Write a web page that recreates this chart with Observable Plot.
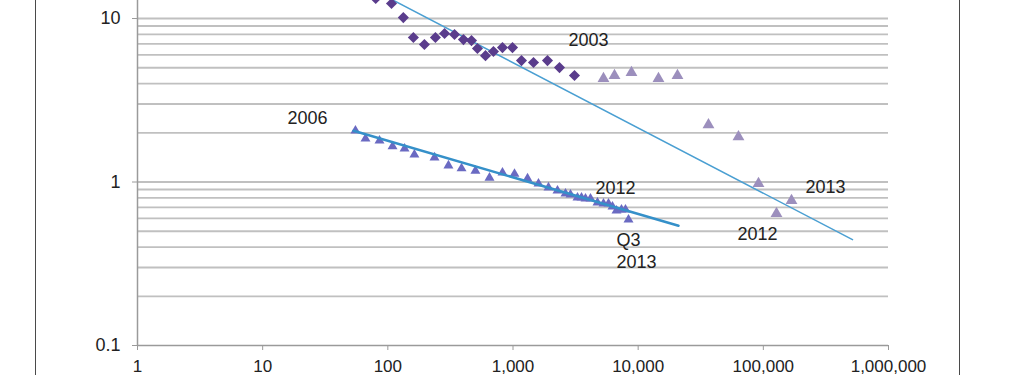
<!DOCTYPE html>
<html>
<head>
<meta charset="utf-8">
<script src="https://cdn.jsdelivr.net/npm/d3@7"></script>
<script src="https://cdn.jsdelivr.net/npm/@observablehq/plot@0.6"></script>
<style>
  html, body { margin: 0; padding: 0; background: #fff; }
  #wrap { position: relative; width: 1022px; height: 375px; overflow: hidden; }
  #border { position: absolute; left: 35px; top: 0; width: 923px; height: 375px;
            border-left: 1.5px solid #4a4a4a; border-right: 1.5px solid #4a4a4a; pointer-events: none; }
  #chart { position: absolute; left: 0; top: 0; }
</style>
</head>
<body>
<div id="wrap"><div id="chart"></div><div id="border"></div></div>
<script>
// --- 2003 series (diamonds) ---
const s2003X = [80, 107, 133, 160, 196, 240, 284, 341, 402, 466, 520, 603, 698, 824, 991, 1169, 1458, 1886, 2352, 3099];
const s2003Y = [13.25, 12.35, 10.13, 7.65, 6.93, 7.65, 8.09, 7.98, 7.43, 7.33, 6.55, 5.93, 6.28, 6.64, 6.64, 5.53, 5.38, 5.53, 5.01, 4.48];
// --- continuation to 2013 (light triangles) ---
const sLateX = [5283, 6469, 8843, 14530, 20610, 36460, 63310, 91500, 127400, 167900];
const sLateY = [4.29, 4.48, 4.67, 4.29, 4.48, 2.24, 1.89, 0.977, 0.640, 0.769];
// --- 2006 to Q3 2013 series (triangles) ---
const s2006X = [55.1, 66.3, 85.8, 109, 136, 163, 236, 305, 388, 501, 649, 824, 1028, 1306, 1598, 1921, 2267, 2627, 2879, 3275, 3526, 3795, 4160, 4732, 5283, 5793, 6234, 6711, 7357, 7918, 8370];
const s2006Y = [2.06, 1.84, 1.79, 1.65, 1.60, 1.47, 1.41, 1.26, 1.21, 1.17, 1.06, 1.14, 1.12, 1.05, 0.977, 0.924, 0.885, 0.849, 0.837, 0.802, 0.802, 0.791, 0.791, 0.747, 0.737, 0.737, 0.707, 0.668, 0.677, 0.677, 0.588];
// --- trend lines (endpoints) ---
const trendAX = [60, 515600];
const trendAY = [16.5, 0.444];
const trendBX = [53.2, 21000];
const trendBY = [2.06, 0.540];
// --- annotations ---
const labelText = ["2006", "2003", "2012", "Q3", "2013", "2013", "2012"];
const labelX = [22.8, 4010, 6590, 8370, 9697, 313700, 89800];
const labelY = [2.44, 7.33, 0.911, 0.4376, 0.321, 0.924, 0.476];
// --- axes ---
const xTicks = [1, 10, 100, 1000, 10000, 100000, 1000000];
const xTickLabels = ["1", "10", "100", "1,000", "10,000", "100,000", "1,000,000"];
const yTicks = [0.1, 1, 10];
const yTickLabels = ["0.1", "1", "10"];
const yGrid = [0.2, 0.3, 0.4, 0.5, 0.6, 0.7, 0.8, 0.9, 1, 2, 3, 4, 5, 6, 7, 8, 9, 10];

const zip = (xs, ys) => xs.map((x, i) => ({x, y: ys[i]}));
const d2003 = zip(s2003X, s2003Y);
const dLate = zip(sLateX, sLateY);
const d2006 = zip(s2006X, s2006Y);
const tA = zip(trendAX, trendAY);
const tB = zip(trendBX, trendBY);
const labels = labelText.map((t, i) => ({t, x: labelX[i], y: labelY[i]}));
const xFmt = d => xTickLabels[xTicks.findIndex(v => Math.abs(v - d) < 1e-9 * v)];
const yFmt = d => yTickLabels[yTicks.findIndex(v => Math.abs(v - d) < 1e-9 * v)];

const chart = Plot.plot({
  width: 1022,
  height: 375,
  marginLeft: 137,
  marginRight: 134,
  marginTop: 0,
  marginBottom: 30,
  x: {type: "log", domain: [1, 1000000]},
  y: {type: "log", domain: [0.1, 12.89]},
  style: {fontFamily: "'Liberation Sans', Arial, sans-serif", fontSize: "18px", color: "#222", background: "transparent", overflow: "visible"},
  marks: [
    Plot.ruleY(yGrid, {stroke: "#c0c0c0", strokeWidth: 1.8}),
    Plot.ruleX([1], {stroke: "#9a9a9a", strokeWidth: 1.5}),
    Plot.ruleY([0.1], {stroke: "#9a9a9a", strokeWidth: 1.5}),
    Plot.axisY({ticks: yTicks, tickFormat: yFmt, tickSize: 5, tickPadding: 12, stroke: "#9a9a9a", label: null, fontSize: 18}),
    Plot.axisX({ticks: xTicks, tickFormat: xFmt, tickSize: 5, tickPadding: 9, stroke: "#9a9a9a", label: null, fontSize: 17}),
    Plot.line(tA, {x: "x", y: "y", stroke: "#4a9fd2", strokeWidth: 1.5, clip: true}),
    Plot.dot(d2003, {x: "x", y: "y", symbol: "diamond2", r: 5, fill: "#5a3c8c", clip: true}),
    Plot.dot(dLate, {x: "x", y: "y", symbol: "triangle", r: 4.4, fill: "#9c8fbd", clip: true}),
    Plot.dot(d2006, {x: "x", y: "y", symbol: "triangle", r: 3.7, fill: "#6a6ac2", clip: true}),
    Plot.line(tB, {x: "x", y: "y", stroke: "#3590c9", strokeWidth: 2.5, clip: true}),
    Plot.text(labels, {x: "x", y: "y", text: "t", fill: "#222", fontSize: 18})
  ]
});
document.getElementById("chart").appendChild(chart);
</script>
</body>
</html>
